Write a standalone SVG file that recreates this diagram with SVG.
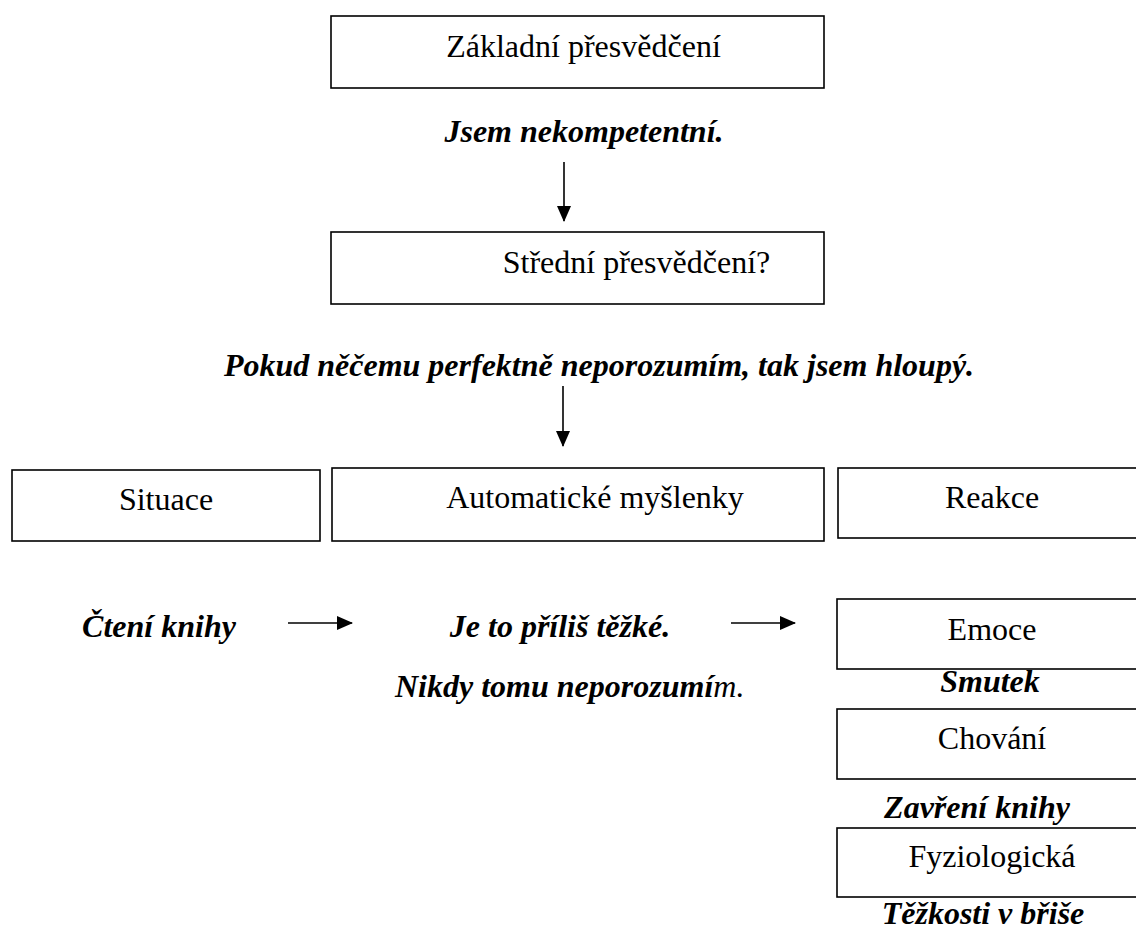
<svg xmlns="http://www.w3.org/2000/svg" width="1136" height="931" viewBox="0 0 1136 931">
<style>
.box{fill:#fff;stroke:#000;stroke-width:1.6}
.t{font-family:"Liberation Serif","Times New Roman",serif;font-size:32px;fill:#000}
.bi{font-family:"Liberation Serif","Times New Roman",serif;font-size:32px;font-weight:bold;font-style:italic;fill:#000}
.c{text-anchor:middle}
.ln{stroke:#000;stroke-width:1.6;fill:none}
</style>
<defs>
<marker id="ah" markerWidth="16" markerHeight="14" refX="15" refY="7" orient="auto" markerUnits="userSpaceOnUse">
<path d="M0,0 L16,7 L0,14 Z" fill="#000"/>
</marker>
</defs>
<rect width="1136" height="931" fill="#fff"/>
<g id="connectors">
<line class="ln" x1="564" y1="162" x2="564" y2="221" marker-end="url(#ah)"/>
<line class="ln" x1="563" y1="386" x2="563" y2="446" marker-end="url(#ah)"/>
<line class="ln" x1="288" y1="623" x2="352" y2="623" marker-end="url(#ah)"/>
<line class="ln" x1="731" y1="623" x2="795" y2="623" marker-end="url(#ah)"/>
</g>
<g id="core">
<rect class="box" x="331" y="16" width="493" height="72"/>
<text class="t c" x="583.5" y="57">Základní přesvědčení</text>
</g>
<text id="core-text" class="bi c" x="584" y="142">Jsem nekompetentní.</text>
<g id="intermediate">
<rect class="box" x="331" y="232" width="493" height="72"/>
<text class="t c" x="636.5" y="273">Střední přesvědčení?</text>
</g>
<text id="intermediate-text" class="bi c" x="599" y="376">Pokud něčemu perfektně neporozumím, tak jsem hloupý.</text>
<g id="situace">
<rect class="box" x="12" y="470" width="308" height="71"/>
<text class="t c" x="166" y="510">Situace</text>
</g>
<g id="automaticke">
<rect class="box" x="332" y="468" width="492" height="73"/>
<text class="t c" x="595" y="508">Automatické myšlenky</text>
</g>
<g id="reakce">
<rect class="box" x="838" y="468" width="310" height="70"/>
<text class="t c" x="992" y="508">Reakce</text>
</g>
<text id="situace-text" class="bi c" x="159" y="637">Čtení knihy</text>
<g id="myslenky-text">
<text class="bi c" x="560" y="637">Je to příliš těžké.</text>
<text class="bi" x="395" y="697">Nikdy tomu neporozumí<tspan font-weight="normal">m.</tspan></text>
</g>
<g id="emoce">
<rect class="box" x="837" y="599" width="310" height="70"/>
<text class="t c" x="992" y="640">Emoce</text>
</g>
<text id="emoce-text" class="bi c" x="990" y="692">Smutek</text>
<g id="chovani">
<rect class="box" x="837" y="709" width="310" height="70"/>
<text class="t c" x="992" y="749">Chování</text>
</g>
<text id="chovani-text" class="bi c" x="977" y="818">Zavření knihy</text>
<g id="fyziologicka">
<rect class="box" x="837" y="828" width="310" height="69"/>
<text class="t c" x="992" y="867">Fyziologická</text>
</g>
<text id="fyziologicka-text" class="bi c" x="983" y="924">Těžkosti v břiše</text>
</svg>
